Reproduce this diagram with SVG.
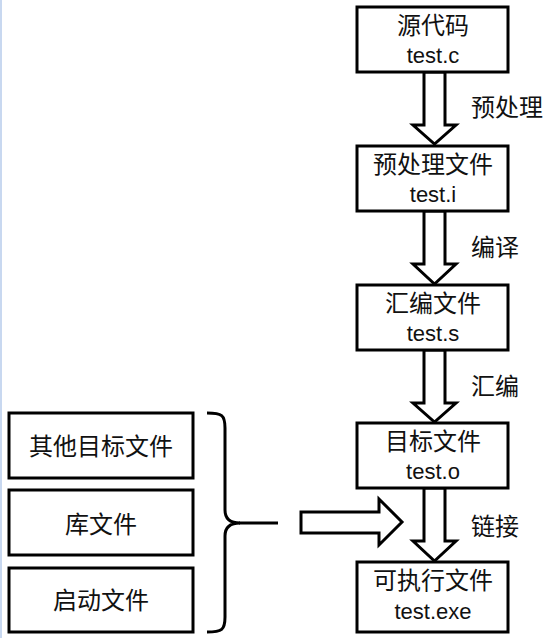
<svg xmlns="http://www.w3.org/2000/svg" width="554" height="638" viewBox="0 0 554 638">
<style>
.box{fill:#fff;stroke:#000;stroke-width:3}
.arr{fill:#fff;stroke:#000;stroke-width:3;stroke-linejoin:miter}
.t{font-family:"Noto Sans CJK SC","Liberation Sans",sans-serif;font-size:24px;fill:#111;text-anchor:middle}
.e{font-family:"Liberation Sans",sans-serif;font-size:22px;fill:#111;text-anchor:middle}
.l{font-family:"Noto Sans CJK SC","Liberation Sans",sans-serif;font-size:24px;fill:#111;text-anchor:start}
</style>
<rect width="554" height="638" fill="#fff"/>
<rect x="0" y="0" width="2" height="638" fill="#c8d8f0"/>
<g id="connectors">
<polygon class="arr" points="424,72 445,72 445,125 456,125 434.5,144 413,125 424,125"/>
<polygon class="arr" points="424,211 445,211 445,264 456,264 434.5,284 413,264 424,264"/>
<polygon class="arr" points="424,350 445,350 445,403 456,403 434.5,422 413,403 424,403"/>
<polygon class="arr" points="424,488 445,488 445,541 456,541 434.5,561 413,541 424,541"/>
<polygon class="arr" points="301,512 379,512 379,499 402,522 379,545 379,533 301,533"/>
<path d="M207,413 C222,413 225,415 225,428 L225,510 C225,519 230,523 240,523 C230,523 225,527 225,536 L225,617 C225,630 222,632 207,632" fill="none" stroke="#000" stroke-width="3"/>
<line x1="239" y1="523" x2="278" y2="523" stroke="#000" stroke-width="3"/>
<text class="l" x="471" y="116">预处理</text>
<text class="l" x="471" y="256">编译</text>
<text class="l" x="471" y="395">汇编</text>
<text class="l" x="471" y="535">链接</text>
</g>
<g id="n1"><rect class="box" x="357" y="7" width="151" height="65"/><text class="t" x="433" y="34">源代码</text><text class="e" x="433" y="63">test.c</text></g>
<g id="n2"><rect class="box" x="357" y="146" width="151" height="65"/><text class="t" x="433" y="173">预处理文件</text><text class="e" x="433" y="202">test.i</text></g>
<g id="n3"><rect class="box" x="357" y="285" width="151" height="65"/><text class="t" x="433" y="312">汇编文件</text><text class="e" x="433" y="341">test.s</text></g>
<g id="n4"><rect class="box" x="357" y="423" width="151" height="65"/><text class="t" x="433" y="450">目标文件</text><text class="e" x="433" y="479">test.o</text></g>
<g id="n5"><rect class="box" x="357" y="562" width="151" height="70"/><text class="t" x="433" y="589">可执行文件</text><text class="e" x="433" y="619">test.exe</text></g>
<g id="o1"><rect class="box" x="9" y="413" width="184" height="65"/><text class="t" x="101" y="455">其他目标文件</text></g>
<g id="o2"><rect class="box" x="9" y="490" width="184" height="65"/><text class="t" x="101" y="533">库文件</text></g>
<g id="o3"><rect class="box" x="9" y="568" width="184" height="64"/><text class="t" x="101" y="609">启动文件</text></g>
</svg>
